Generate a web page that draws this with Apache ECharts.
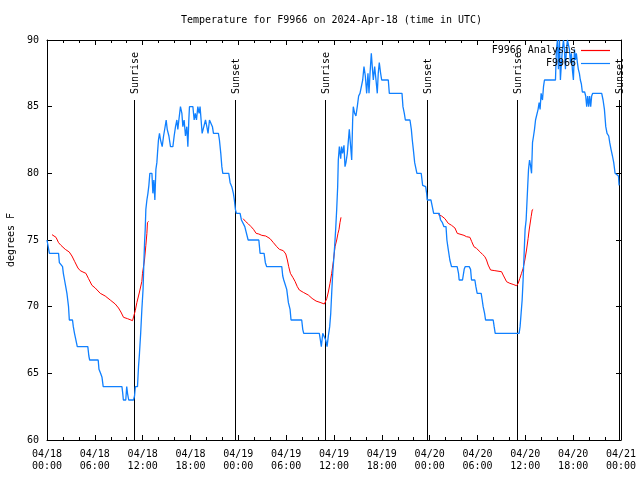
<!DOCTYPE html>
<html>
<head>
<meta charset="utf-8">
<script src="https://cdn.jsdelivr.net/npm/echarts@6/dist/echarts.min.js"></script>
<style>
html,body{margin:0;padding:0;background:#fff;}
#chart{width:640px;height:480px;}
</style>
</head>
<body>
<div id="chart"></div>
<script>
// Hours since 2024-04-18 00:00 UTC
var titleText = "Temperature for F9966 on 2024-Apr-18 (time in UTC)";
var xTickLabels = ["04/18\n00:00","04/18\n06:00","04/18\n12:00","04/18\n18:00","04/19\n00:00","04/19\n06:00","04/19\n12:00","04/19\n18:00","04/20\n00:00","04/20\n06:00","04/20\n12:00","04/20\n18:00","04/21\n00:00"];
var yMin = 60, yMax = 90, yStep = 5;
var xMin = 0, xMax = 72, xStep = 6;

var eventHours = [10.95, 23.63, 34.92, 47.67, 58.92, 71.7];
var eventLabels = ["Sunrise","Sunset","Sunrise","Sunset","Sunrise","Sunset"];

var analysis1 = [[0.63,75.4],[0.88,75.4],[1.13,75.2],[1.45,74.8],[1.75,74.6],[2.29,74.3],[2.79,74.1],[3.13,73.8],[3.46,73.4],[3.88,72.9],[4.17,72.7],[4.51,72.6],[4.88,72.5],[5.21,72.1],[5.64,71.6],[6.05,71.4],[6.68,71.0],[7.3,70.8],[7.93,70.5],[8.56,70.2],[8.97,69.9],[9.27,69.6],[9.6,69.2],[10.1,69.1],[10.73,68.95],[10.85,69.1],[11.07,69.7],[11.27,70.3],[11.6,71.1],[11.9,71.9],[11.98,72.5],[12.23,73.5],[12.4,74.6],[12.53,75.5],[12.6,76.3],[12.73,76.4]];
var analysis2 = [[24.6,76.6],[24.89,76.4],[25.27,76.2],[25.6,76.0],[25.9,75.8],[26.23,75.5],[26.57,75.45],[26.94,75.35],[27.44,75.3],[27.98,75.1],[28.4,74.8],[28.82,74.5],[29.15,74.3],[29.64,74.2],[29.95,73.95],[30.15,73.5],[30.32,73.0],[30.53,72.5],[30.83,72.2],[31.11,71.9],[31.4,71.5],[31.65,71.25],[32.16,71.07],[32.78,70.87],[33.25,70.62],[33.75,70.42],[34.25,70.32],[34.79,70.2],[34.92,70.2],[35.09,70.6],[35.29,71.1],[35.5,71.75],[35.71,72.5],[35.92,73.4],[36.13,74.5],[36.34,75.0],[36.5,75.5],[36.63,75.8],[36.75,76.3],[36.88,76.7]];
var analysis3 = [[49.07,76.9],[49.5,76.8],[49.91,76.6],[50.33,76.25],[50.75,76.1],[51.17,75.9],[51.46,75.5],[51.71,75.35],[52.3,75.35],[52.62,75.25],[53.05,75.2],[53.26,74.9],[53.55,74.5],[53.88,74.37],[54.3,74.12],[54.63,73.92],[54.92,73.75],[55.13,73.5],[55.34,73.12],[55.64,72.75],[56.18,72.7],[57.02,72.62],[57.22,72.37],[57.65,71.87],[58.06,71.75],[58.47,71.67],[58.9,71.57],[59.1,71.75],[59.31,72.12],[59.52,72.5],[59.72,72.87],[59.94,73.5],[60.15,74.25],[60.35,75.12],[60.48,75.75],[60.56,75.9],[60.73,76.75],[60.86,77.25],[60.98,77.3]];

var observed = [[0.0,75.0],[0.15,75.0],[0.3,74.0],[1.45,74.0],[1.55,73.3],[1.8,73.3],[1.95,73.0],[2.05,72.5],[2.2,72.0],[2.35,71.5],[2.5,71.0],[2.6,70.5],[2.7,70.0],[2.8,69.0],[3.2,69.0],[3.3,68.5],[3.45,68.0],[3.7,68.0],[3.8,67.0],[5.12,67.0],[5.25,66.3],[5.35,66.0],[6.42,66.0],[6.52,65.3],[6.72,65.0],[6.9,64.7],[7.05,64.0],[9.4,64.0],[9.5,63.5],[9.58,63.0],[9.88,63.0],[10.0,64.0],[10.1,63.5],[10.25,63.0],[10.85,63.0],[10.98,63.3],[11.08,64.0],[11.35,64.0],[11.48,65.5],[11.6,66.5],[11.75,68.0],[11.9,69.8],[12.05,71.3],[12.15,73.3],[12.25,75.0],[12.32,75.8],[12.4,77.3],[12.53,78.0],[12.66,78.5],[12.78,79.1],[12.9,80.0],[13.16,80.0],[13.28,78.5],[13.4,79.5],[13.53,78.0],[13.66,80.3],[13.78,80.8],[13.86,81.5],[13.98,82.5],[14.11,83.0],[14.24,82.5],[14.45,82.0],[14.62,82.8],[14.79,83.4],[14.95,84.0],[15.08,83.3],[15.29,82.8],[15.49,82.0],[15.79,82.0],[15.95,82.8],[16.12,83.5],[16.29,84.0],[16.41,83.3],[16.54,84.0],[16.74,85.0],[16.92,84.5],[17.04,83.5],[17.2,84.0],[17.37,82.8],[17.54,83.5],[17.67,82.0],[17.79,84.0],[17.87,85.0],[18.3,85.0],[18.46,84.0],[18.6,84.5],[18.75,84.0],[18.92,85.0],[19.08,84.5],[19.2,85.0],[19.33,84.0],[19.46,83.0],[19.71,83.0],[19.88,84.0],[20.05,83.5],[20.2,83.0],[20.38,84.0],[20.63,84.0],[20.75,83.5],[20.88,83.0],[21.5,83.0],[21.63,82.5],[21.8,81.5],[21.93,80.5],[22.05,80.0],[22.8,80.0],[22.97,79.3],[23.18,79.0],[23.38,78.5],[23.5,78.0],[23.63,77.3],[23.76,77.0],[24.22,77.0],[24.39,76.5],[24.64,76.5],[24.81,76.0],[25.06,76.0],[25.23,75.0],[26.57,75.0],[26.73,74.0],[27.23,74.0],[27.39,73.3],[27.56,73.0],[29.45,73.0],[29.57,72.3],[29.7,72.0],[29.9,72.0],[30.07,71.3],[30.28,70.3],[30.49,69.8],[30.61,69.0],[31.95,69.0],[32.08,68.3],[32.2,68.0],[34.16,68.0],[34.29,67.5],[34.41,67.0],[34.59,68.0],[34.84,68.0],[34.96,67.5],[35.13,67.0],[35.29,67.8],[35.46,68.5],[35.59,69.5],[35.71,71.0],[35.84,72.5],[35.96,73.5],[36.09,74.6],[36.21,75.8],[36.34,77.3],[36.46,79.0],[36.54,81.0],[36.67,82.0],[36.84,81.1],[36.95,82.0],[37.08,81.5],[37.25,82.1],[37.38,80.5],[37.5,80.8],[37.67,81.5],[37.92,83.3],[38.09,82.0],[38.22,81.0],[38.34,84.0],[38.42,85.0],[38.59,84.5],[38.75,84.3],[38.92,85.0],[39.09,85.8],[39.26,86.0],[39.51,86.0],[39.6,87.0],[39.76,88.0],[39.93,87.3],[40.1,86.0],[40.26,87.5],[40.39,86.0],[40.52,87.5],[40.68,89.0],[40.8,88.0],[40.93,87.0],[41.1,88.0],[41.27,87.0],[41.43,86.0],[41.55,87.5],[41.68,88.3],[41.85,87.5],[41.98,87.0],[42.81,87.0],[42.94,86.0],[44.53,86.0],[44.65,85.0],[44.82,84.5],[44.95,84.0],[45.53,84.0],[45.7,83.3],[45.82,82.5],[45.95,81.8],[46.12,80.8],[46.28,80.8],[46.4,80.0],[46.94,80.0],[47.12,79.1],[47.28,79.0],[47.5,79.0],[47.62,78.5],[47.69,78.0],[48.16,78.0],[48.33,77.5],[48.5,77.0],[49.2,77.0],[49.37,76.5],[49.6,76.3],[49.79,76.0],[50.05,76.0],[50.16,75.0],[50.33,74.3],[50.45,74.2],[50.53,73.5],[50.74,73.0],[51.45,73.0],[51.62,72.5],[51.7,72.0],[52.12,72.0],[52.33,72.8],[52.45,73.0],[52.96,73.0],[53.13,72.8],[53.25,72.0],[53.67,72.0],[53.8,71.5],[53.96,71.0],[54.46,71.0],[54.59,70.5],[54.71,70.0],[54.89,69.5],[55.01,69.0],[55.97,69.0],[56.09,68.5],[56.22,68.0],[59.22,68.0],[59.34,68.5],[59.47,69.5],[59.6,70.5],[59.72,72.0],[59.85,74.0],[59.97,75.8],[60.1,76.5],[60.28,78.8],[60.4,80.3],[60.53,81.0],[60.65,80.6],[60.78,80.0],[60.9,82.3],[61.03,82.8],[61.15,83.3],[61.28,84.0],[61.48,84.0],[61.6,84.8],[61.73,85.3],[61.85,84.8],[61.98,86.0],[62.15,85.5],[62.28,86.5],[62.4,87.0],[63.78,87.0],[63.9,89.3],[64.03,90.0],[64.15,87.8],[64.28,90.0],[64.4,87.0],[64.53,88.3],[64.65,89.3],[64.78,90.0],[64.9,89.3],[65.03,87.8],[65.15,89.3],[65.28,90.0],[65.4,90.0],[65.53,89.3],[65.66,88.3],[65.78,89.0],[65.9,87.8],[66.03,87.0],[66.16,89.3],[66.28,88.5],[66.4,89.0],[66.53,88.3],[66.65,87.8],[66.78,87.5],[66.9,87.0],[67.03,86.7],[67.15,86.1],[67.44,86.1],[67.57,85.8],[67.7,85.0],[67.82,85.8],[67.95,85.0],[68.07,85.8],[68.2,85.0],[68.32,85.8],[68.45,86.0],[69.58,86.0],[69.75,85.5],[69.92,84.8],[70.09,83.5],[70.25,83.0],[70.46,82.8],[70.59,82.3],[70.75,81.8],[70.93,81.3],[71.09,80.8],[71.26,80.0],[71.43,79.9],[71.68,79.8],[71.76,79.1]];

var FONT = "DejaVu Sans Mono";
var RED = "#ff0000", BLUE = "#1080ff";
var eventLineFrac = 0.85;

var chart = echarts.init(document.getElementById('chart'), null, {renderer: 'canvas'});

function makeXAxis(pos, showLabels) {
  return {
    type: 'value', position: pos, min: xMin, max: xMax, interval: xStep,
    axisLine: {show: true, onZero: false, lineStyle: {color: '#000', width: 1}},
    axisTick: {show: true, inside: true, length: 5, lineStyle: {color: '#000'}},
    minorTick: {show: true, splitNumber: 3, length: 3, lineStyle: {color: '#000'}},
    splitLine: {show: false},
    axisLabel: {
      show: showLabels, margin: 8, color: '#000', fontFamily: FONT, fontSize: 10, lineHeight: 12,
      formatter: function (v) { return xTickLabels[Math.round((v - xMin) / xStep)] || ''; }
    }
  };
}
function makeYAxis(pos, showLabels, name) {
  return {
    type: 'value', position: pos, min: yMin, max: yMax, interval: yStep,
    name: name || '', nameLocation: 'middle', nameGap: 30, nameRotate: 90,
    nameTextStyle: {color: '#000', fontFamily: FONT, fontSize: 10},
    axisLine: {show: true, onZero: false, lineStyle: {color: '#000', width: 1}},
    axisTick: {show: true, inside: true, length: 5, lineStyle: {color: '#000'}},
    splitLine: {show: false},
    axisLabel: {show: showLabels, margin: 8, color: '#000', fontFamily: FONT, fontSize: 10}
  };
}

function lineSeries(name, data, color, width) {
  return {
    name: name, type: 'line', data: data, showSymbol: false, symbol: 'none',
    xAxisIndex: 0, yAxisIndex: 0, silent: true,
    lineStyle: {color: color, width: width}, itemStyle: {color: color}
  };
}

var option = {
  animation: false,
  backgroundColor: '#fff',
  title: {
    text: titleText, left: 181, top: 14, padding: 0,
    textStyle: {fontFamily: FONT, fontSize: 10, fontWeight: 'normal', color: '#000', lineHeight: 12}
  },
  legend: {
    data: ['F9966 Analysis', 'F9966'],
    orient: 'vertical', right: 30, top: 45, padding: 0, align: 'right',
    icon: 'rect', itemWidth: 29, itemHeight: 1.2, itemGap: 2,
    textStyle: {fontFamily: FONT, fontSize: 10, color: '#000', lineHeight: 11},
    selectedMode: false
  },
  grid: {left: 47, right: 19, top: 40, bottom: 40, containLabel: false, outerBoundsMode: 'none'},
  xAxis: [makeXAxis('bottom', true), makeXAxis('top', false)],
  yAxis: [makeYAxis('left', true, 'degrees F'), makeYAxis('right', false)],
  series: [
    lineSeries('F9966 Analysis', analysis1, RED, 1),
    lineSeries('F9966 Analysis', analysis2, RED, 1),
    lineSeries('F9966 Analysis', analysis3, RED, 1),
    lineSeries('F9966', observed, BLUE, 1.3),
    {
      type: 'custom', xAxisIndex: 0, yAxisIndex: 0, silent: true, clip: false,
      data: eventHours.map(function (h) { return [h, yMin]; }),
      renderItem: function (params, api) {
        var h = api.value(0);
        var p0 = api.coord([h, yMin]);
        var p1 = api.coord([h, yMin + eventLineFrac * (yMax - yMin)]);
        var x = Math.round(p0[0]) + 0.5;
        return {
          type: 'group',
          children: [
            {type: 'line', shape: {x1: x, y1: p0[1], x2: x, y2: p1[1]}, style: {stroke: '#000', lineWidth: 1}},
            {type: 'text', x: x + 1, y: p1[1] - 6, rotation: Math.PI / 2,
             style: {text: eventLabels[params.dataIndex], fill: '#000', font: '10px "' + FONT + '"', align: 'left', verticalAlign: 'middle'}}
          ]
        };
      }
    }
  ]
};
chart.setOption(option);
</script>
</body>
</html>
